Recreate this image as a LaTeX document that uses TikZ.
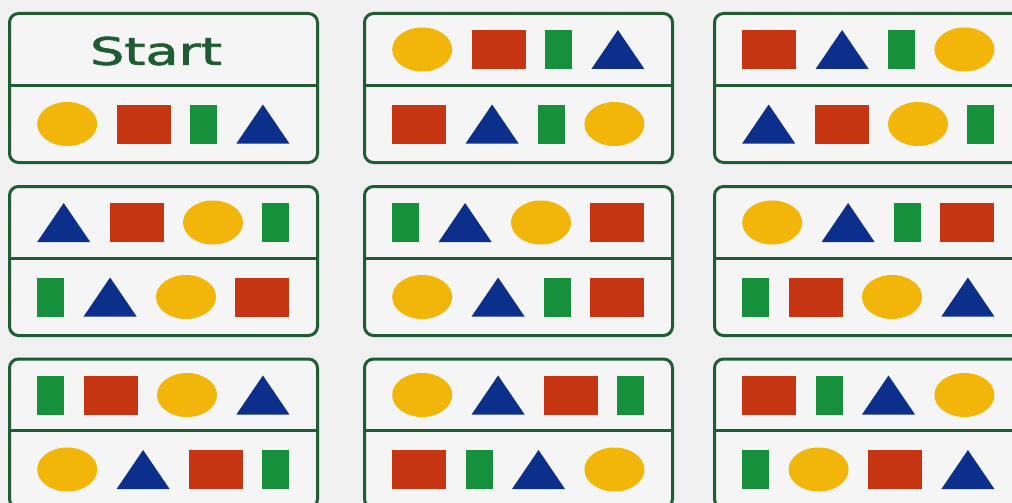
\documentclass[tikz,border=0pt]{standalone}
\usepackage{fontspec}
\newfontfamily\startfont[FakeBold=1.6]{DejaVu Sans}
\usetikzlibrary{positioning,shapes.geometric}
\definecolor{bgc}{HTML}{F0F0F0}
\definecolor{cardfill}{HTML}{F5F5F5}
\definecolor{cardline}{HTML}{1F5C32}
\definecolor{shyellow}{HTML}{F2B50A}
\definecolor{shred}{HTML}{C63511}
\definecolor{shgreen}{HTML}{17903B}
\definecolor{shblue}{HTML}{0D2F8C}
\tikzset{
  card/.style={draw=cardline, line width=3pt, rounded corners=9pt, fill=cardfill,
    minimum width=308pt, minimum height=149pt, inner sep=0pt, anchor=north west},
  divider/.style={draw=cardline, line width=3pt},
  shE/.style={ellipse, fill=shyellow, minimum width=60pt, minimum height=44pt, inner sep=0pt},
  shR/.style={rectangle, fill=shred, minimum width=54pt, minimum height=39pt, inner sep=0pt},
  shG/.style={rectangle, fill=shgreen, minimum width=27pt, minimum height=39pt, inner sep=0pt},
  shT/.style={rectangle, minimum width=53pt, minimum height=39pt, inner sep=0pt,
    path picture={\fill[shblue] (path picture bounding box.south west) --
      (path picture bounding box.south east) -- (path picture bounding box.north) -- cycle;}},
  starttext/.style={text=cardline, font=\startfont\fontsize{38}{40}\selectfont, inner sep=0pt},
}
\newcommand\shaperow[7]{%
  \node[sh#4, anchor=west] (#1a) at ({#2+29},#3) {};
  \node[sh#5, right=19pt of #1a] (#1b) {};
  \node[sh#6, right=19pt of #1b] (#1c) {};
  \node[sh#7, right=19pt of #1c] (#1d) {};
}
\newcommand\cardbox[3]{%
  \node[card] (#1) at (#2,#3) {};
  \draw[divider] ([yshift=-73pt]#1.north west) -- ([yshift=-73pt]#1.north east);
}
\begin{document}
\begin{tikzpicture}[x=1pt,y=-1pt]
\useasboundingbox (0,0) rectangle (1012,503);
\fill[bgc] (0,0) rectangle (1012,503);
% row 0
\cardbox{c00}{8}{12}
\node[starttext] (start) at (156,51) {\scalebox{1.42}[1]{Start}};
\shaperow{c00b}{8}{124}{E}{R}{G}{T}
\cardbox{c10}{363}{12}
\shaperow{c10t}{363}{49.5}{E}{R}{G}{T}
\shaperow{c10b}{363}{124}{R}{T}{G}{E}
\cardbox{c20}{713}{12}
\shaperow{c20t}{713}{49.5}{R}{T}{G}{E}
\shaperow{c20b}{713}{124}{T}{R}{E}{G}
% row 1
\cardbox{c01}{8}{185}
\shaperow{c01t}{8}{222.5}{T}{R}{E}{G}
\shaperow{c01b}{8}{297}{G}{T}{E}{R}
\cardbox{c11}{363}{185}
\shaperow{c11t}{363}{222.5}{G}{T}{E}{R}
\shaperow{c11b}{363}{297}{E}{T}{G}{R}
\cardbox{c21}{713}{185}
\shaperow{c21t}{713}{222.5}{E}{T}{G}{R}
\shaperow{c21b}{713}{297}{G}{R}{E}{T}
% row 2
\cardbox{c02}{8}{357.5}
\shaperow{c02t}{8}{395}{G}{R}{E}{T}
\shaperow{c02b}{8}{469.5}{E}{T}{R}{G}
\cardbox{c12}{363}{357.5}
\shaperow{c12t}{363}{395}{E}{T}{R}{G}
\shaperow{c12b}{363}{469.5}{R}{G}{T}{E}
\cardbox{c22}{713}{357.5}
\shaperow{c22t}{713}{395}{R}{G}{T}{E}
\shaperow{c22b}{713}{469.5}{G}{E}{R}{T}
\end{tikzpicture}
\end{document}
